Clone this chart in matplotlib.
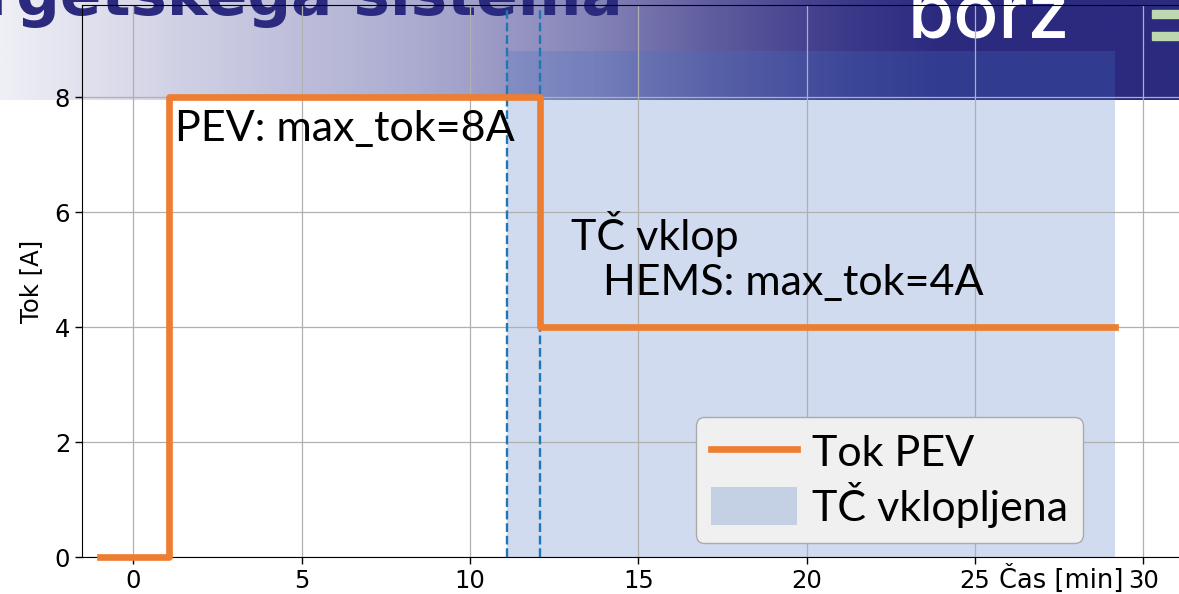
import matplotlib
matplotlib.use("Agg")
import matplotlib.pyplot as plt
import numpy as np
from matplotlib.colors import LinearSegmentedColormap
from matplotlib.patches import Rectangle

# step profile of the charging current
time_min = [-1, 1.07, 12.08, 29.15]
current_a = [0, 8, 4, 4]

# heat pump on interval and event markers
hp_on = [11.1, 29.15]
hp_top = 8.8
event_lines = [11.1, 12.08]

x_ticks = [0, 5, 10, 15, 20, 25, 30]
y_ticks = [0, 2, 4, 6, 8]

ORANGE = "#ED7D31"
BLUE = "#4472C4"
NAVY = "#2B2A7F"
LABEL_FONT = ["Lato", "DejaVu Sans"]

W, H = 1179, 594
fig = plt.figure(figsize=(W / 100, H / 100), dpi=100, facecolor="white")

# slide banner behind the chart
banner = fig.add_axes([0, 1 - 100 / H, 1, 100 / H], zorder=0)
cmap = LinearSegmentedColormap.from_list(
    "banner",
    [(0.0, "#EFEFF6"), (0.17, "#CDCDE3"), (0.35, "#ACACD1"), (0.5, "#8685B9"),
     (0.6, "#615E9F"), (0.72, "#3B398A"), (0.8, NAVY), (1.0, NAVY)],
)
banner.imshow(np.linspace(0, 1, 512)[None, :], aspect="auto", cmap=cmap,
              extent=[0, 1, 0, 1])
banner.set_axis_off()
fig.text(-0.012, 1 - 15 / H, "rgetskega sistema", fontsize=44, fontweight="bold",
         color=NAVY, va="baseline", zorder=1)
fig.text(908 / W, 1 - 38 / H, "borz", fontsize=54, fontweight="medium",
         color="white", va="baseline", zorder=1, family=["Inter", "DejaVu Sans"])
for y0 in [10, 32]:
    fig.patches.append(Rectangle((1152 / W, 1 - (y0 + 8) / H), 40 / W, 8 / H,
                                 transform=fig.transFigure, color="#BDD7AE",
                                 zorder=1))

ax = fig.add_axes([82 / W, 36.7 / H, 1112 / W, 552.3 / H], zorder=2)
ax.set_facecolor("none")

ax.plot(time_min, current_a, drawstyle="steps-post", color=ORANGE, lw=4.8,
        label="Tok PEV", zorder=3, clip_on=False)
ax.fill_between(hp_on, 0, hp_top, color=BLUE, alpha=0.25, lw=0,
                label="TČ vklopljena", zorder=1)
for xv in event_lines:
    ax.axvline(xv, color="#1f77b4", ls="--", lw=1.7, zorder=2)

ax.text(1.24, 7.23, "PEV: max_tok=8A", fontsize=31, family=LABEL_FONT, va="baseline")
ax.text(13.0, 5.34, "TČ vklop", fontsize=31, family=LABEL_FONT, va="baseline")
ax.text(13.95, 4.56, "HEMS: max_tok=4A", fontsize=31, family=LABEL_FONT, va="baseline")

ax.set_xlim(-1.52, 31.5)
ax.set_ylim(0, 9.6)
ax.set_xticks(x_ticks)
ax.set_yticks(y_ticks)
ax.tick_params(labelsize=17.5, length=5, width=1)
ax.grid(True, color="#b0b0b0", lw=0.9)
ax.spines["right"].set_visible(False)

ax.set_xlabel("Čas [min]", fontsize=18.5)
ax.xaxis.set_label_coords(0.881, -0.014)
ax.set_ylabel("Tok [A]", fontsize=17.5)
ax.yaxis.set_label_coords(-0.035, 0.5)

leg = ax.legend(loc="lower right", bbox_to_anchor=(1083 / W, 51 / H),
                bbox_transform=fig.transFigure, borderaxespad=0,
                prop={"family": LABEL_FONT, "size": 31},
                handlelength=2.0, handleheight=1.0, handletextpad=0.35,
                labelspacing=0.2, borderpad=0.35, facecolor="#F0F0F0",
                edgecolor="#AAAAAA", framealpha=1)
leg.set_zorder(5)

fig.savefig("out.png", dpi=100)
